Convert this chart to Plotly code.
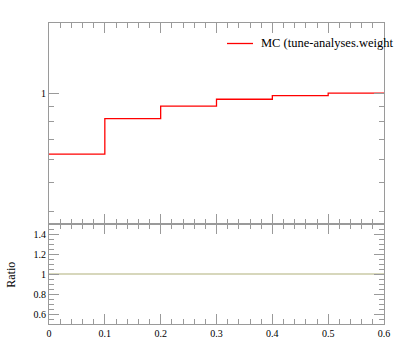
import plotly.graph_objects as go

# ---- data ----
bin_edges = [0.0, 0.1, 0.2, 0.3, 0.4, 0.5, 0.6]
mc_values = [0.623, 0.821, 0.904, 0.954, 0.982, 1.0]
ratio_values = [1.0, 1.0, 1.0, 1.0, 1.0, 1.0]
x_tick_vals = [0.0, 0.1, 0.2, 0.3, 0.4, 0.5, 0.6]
x_tick_text = ["0", "0.1", "0.2", "0.3", "0.4", "0.5", "0.6"]
ratio_tick_vals = [0.6, 0.8, 1.0, 1.2, 1.4]
ratio_tick_text = ["0.6", "0.8", "1", "1.2", "1.4"]
main_tick_vals = [1.0]
main_tick_text = ["1"]
main_minor_vals = [0.4, 0.5, 0.6, 0.7, 0.8, 0.9]
legend_label = "MC (tune-analyses.weight"

W, H = 397, 358
FONT = "Liberation Serif"
AX = "#9a9a9a"
RED = "#ff0000"

fig = go.Figure()

fig.add_trace(go.Scatter(
    x=bin_edges, y=mc_values + [mc_values[-1]],
    mode="lines", line=dict(color=RED, width=1.3, shape="hv"),
    name=legend_label, xaxis="x2", yaxis="y2", showlegend=False,
))
fig.add_trace(go.Scatter(
    x=bin_edges, y=ratio_values + [ratio_values[-1]],
    mode="lines", line=dict(color="#b0b07a", width=1.2, shape="hv"),
    xaxis="x", yaxis="y", showlegend=False,
))

x0, x1 = 49 / W, 384 / W
y_mid = (H - 224) / H
y_top = (H - 23.3) / H
y_bot = (H - 324) / H

common_x = dict(
    range=[0, 0.6], showline=True, linecolor=AX, linewidth=1, mirror="ticks",
    ticks="inside", ticklen=10, tickcolor=AX, tickwidth=1,
    tickmode="array", tickvals=x_tick_vals,
    minor=dict(dtick=0.02, tick0=0, ticklen=5, tickcolor=AX, ticks="inside"),
    showgrid=False, zeroline=False, domain=[x0, x1], automargin=False,
)

fig.update_layout(
    width=W, height=H, autosize=False,
    margin=dict(l=0, r=0, t=0, b=0),
    paper_bgcolor="white", plot_bgcolor="white",
    font=dict(family=FONT, color="black", size=10),
    xaxis=dict(**common_x, ticktext=x_tick_text, showticklabels=True, anchor="y",
               tickfont=dict(size=10)),
    xaxis2=dict(**common_x, ticktext=x_tick_text, showticklabels=False, anchor="y2",
                matches="x"),
    yaxis=dict(
        domain=[y_bot, y_mid], range=[0.5, 1.5], anchor="x",
        showline=True, linecolor=AX, linewidth=1, mirror="ticks",
        ticks="inside", ticklen=10, tickcolor=AX,
        tickmode="array", tickvals=ratio_tick_vals, ticktext=ratio_tick_text,
        minor=dict(dtick=0.05, tick0=0, ticklen=5, tickcolor=AX, ticks="inside"),
        showgrid=False, zeroline=False, tickfont=dict(size=10), automargin=False,
    ),
    yaxis2=dict(
        domain=[y_mid, y_top], type="log", range=[-0.441, 0.2357], anchor="x2",
        showline=True, linecolor=AX, linewidth=1, mirror="ticks",
        ticks="inside", ticklen=10, tickcolor=AX,
        tickmode="array", tickvals=main_tick_vals, ticktext=main_tick_text,
        minor=dict(tickmode="array", tickvals=main_minor_vals, ticklen=5,
                   tickcolor=AX, ticks="inside"),
        showgrid=False, zeroline=False, tickfont=dict(size=10), automargin=False,
    ),
    showlegend=False,
)

# y-axis title of the ratio panel
fig.add_annotation(text="Ratio", textangle=-90, xref="paper", yref="paper",
                   x=11 / W, y=(H - 274.7) / H, showarrow=False,
                   font=dict(size=12, family=FONT), xanchor="center", yanchor="middle")

# legend (line sample + label)
leg_y = (H - 43.5) / H
fig.add_shape(type="line", xref="paper", yref="paper",
              x0=227 / W, x1=253 / W, y0=leg_y, y1=leg_y,
              line=dict(color=RED, width=1.3))
fig.add_annotation(text=legend_label, xref="paper", yref="paper",
                   x=259 / W, y=leg_y, showarrow=False, xanchor="left",
                   yanchor="middle", font=dict(size=12.5, family=FONT))

fig.write_html("out.html",
               config={"displayModeBar": False},
               post_script="document.body.style.margin='0';document.body.style.overflow='hidden';")
